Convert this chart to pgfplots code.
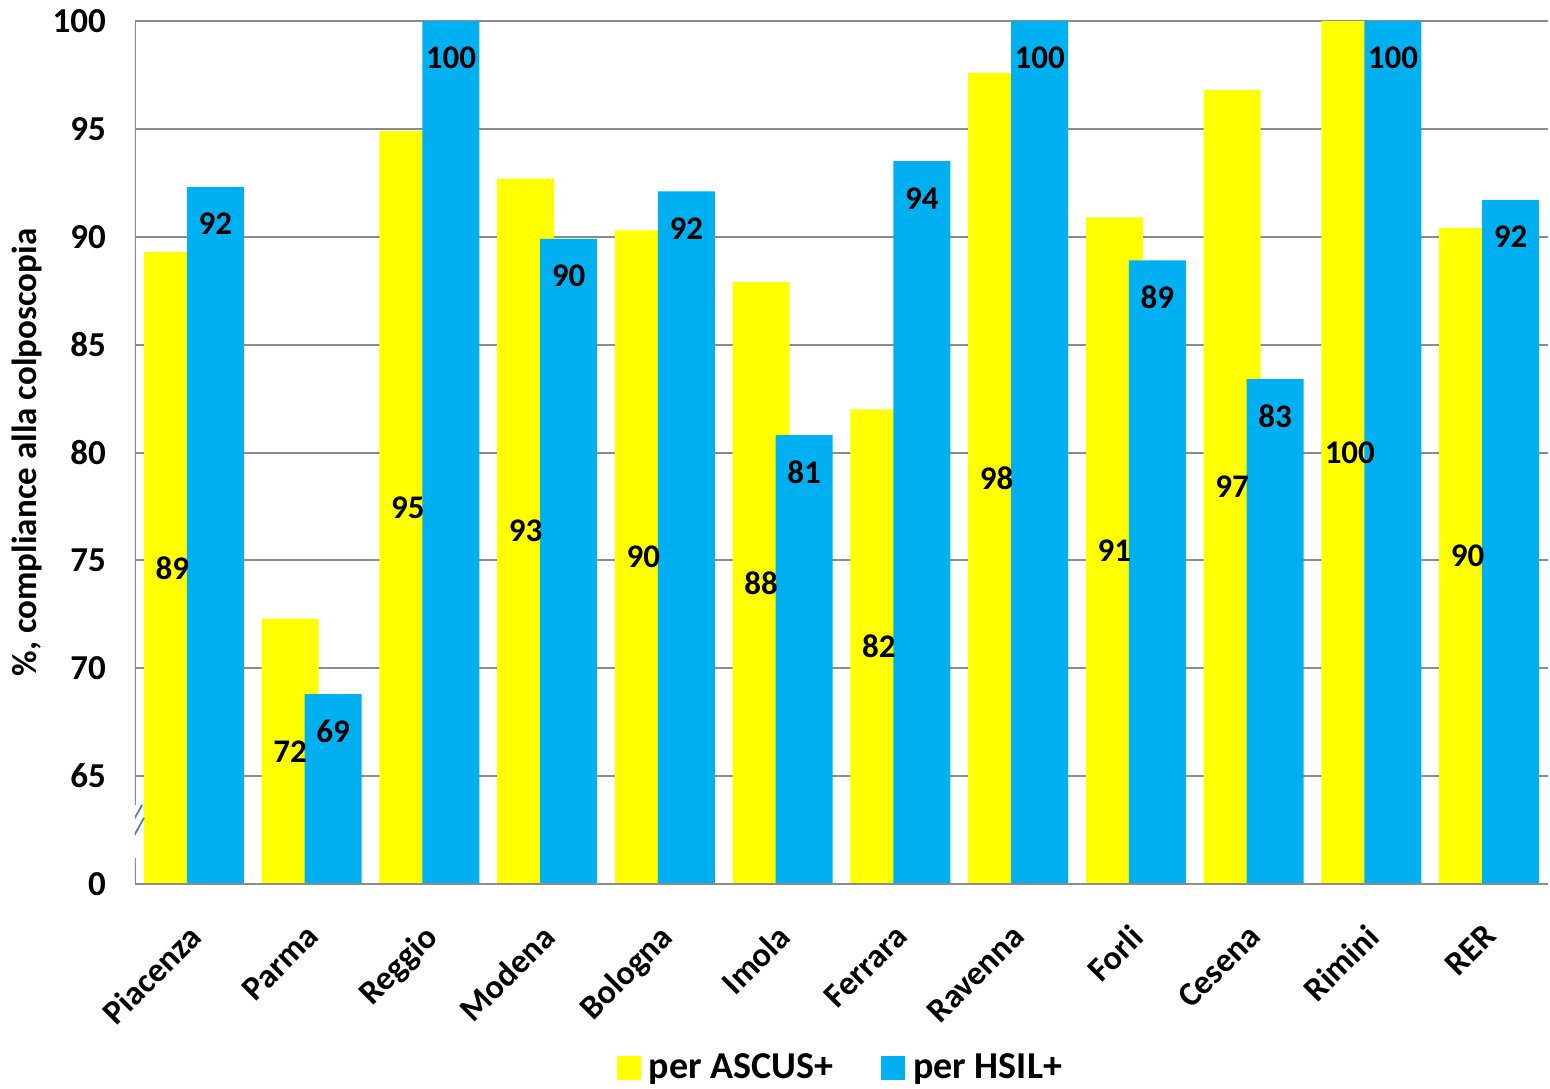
\documentclass[border=0pt]{standalone}
\usepackage{fontspec}
\setmainfont{Carlito}
\usepackage{pgfplots}
\pgfplotsset{compat=1.18}
\usepackage{pgfplotstable}
\definecolor{cyel}{HTML}{FFFF00}
\definecolor{cblue}{HTML}{00B0F0}
\definecolor{cgrid}{HTML}{8C8C8C}
\definecolor{cbreak}{HTML}{4F81BD}

\pgfplotstableread{
x a b la lb
0 89.3 92.3 89 92
1 72.3 68.8 72 69
2 94.9 100 95 100
3 92.7 89.9 93 90
4 90.3 92.1 90 92
5 87.9 80.8 88 81
6 82.0 93.5 82 94
7 97.6 100 98 100
8 90.9 88.9 91 89
9 96.8 83.4 97 83
10 100 100 100 100
11 90.4 91.7 90 92
}\data

\begin{document}
\begin{tikzpicture}
\begin{axis}[
  at={(0,0)}, anchor=south west,
  scale only axis, width=706.5pt, height=431.5pt,
  xmin=-0.5, xmax=11.5, ymin=0, ymax=40,
  axis lines=left, axis line style={draw=none},
  xtick={0,...,11},
  xticklabels={Piacenza,Parma,Reggio,Modena,Bologna,Imola,Ferrara,Ravenna,Forli,Cesena,Rimini,RER},
  ytick={0,5,...,40},
  yticklabels={0,65,70,75,80,85,90,95,100},
  major tick length=0pt,
  ymajorgrids, major grid style={cgrid, line width=1pt},
  yticklabel style={font=\fontsize{17.5}{20}\selectfont\bfseries, xshift=-11pt},
  xticklabel style={font=\fontsize{17}{20}\selectfont\bfseries, rotate=45, anchor=north east, yshift=-7.7pt, xshift=-12.7pt},
  ylabel={\%, compliance alla colposcopia},
  ylabel style={font=\fontsize{17.5}{20}\selectfont\bfseries, at={(axis description cs:-0.0764,0.5)}, anchor=center},
  legend style={at={(axis description cs:0.5,-0.213)}, anchor=center, draw=none, legend columns=2,
    font=\fontsize{19}{22}\selectfont\bfseries,
    /tikz/every odd column/.append style={column sep=2pt},
    /tikz/every even column/.append style={column sep=22pt}},
  legend image code/.code={\fill[#1] (0pt,-6pt) rectangle (12pt,6pt);},
  every node near coord/.append style={font=\fontsize{16.5}{19}\selectfont\bfseries, text=black},
]
\addplot[ybar, bar width=0.484, bar shift=-0.183, fill=cyel, draw=none]
  table[x=x, y expr=\thisrow{a}-60] {\data};
\addlegendentry{per ASCUS+}
\addplot[ybar, bar width=0.484, bar shift=0.183, fill=cblue, draw=none]
  table[x=x, y expr=\thisrow{b}-60] {\data};
\addlegendentry{per HSIL+}
\addplot[draw=none, mark=none, nodes near coords, point meta=explicit symbolic,
  every node near coord/.append style={anchor=center}, forget plot]
  table[x expr=\thisrow{x}-0.183, y expr=(\thisrow{a}-60)/2, meta=la] {\data};
\addplot[draw=none, mark=none, nodes near coords, point meta=explicit symbolic,
  every node near coord/.append style={anchor=center, yshift=-18.5pt}, forget plot]
  table[x expr=\thisrow{x}+0.183, y expr=\thisrow{b}-60, meta=lb] {\data};
\draw[cgrid, line width=1pt] (axis cs:-0.5,0) -- (axis cs:11.5,0);
\draw[cgrid, line width=1pt] (axis cs:-0.5,0) -- (axis cs:-0.5,1.2);
\draw[cgrid, line width=1pt] (axis cs:-0.5,3.65) -- (axis cs:-0.5,40);
\draw[cbreak, line width=0.9pt] (axis cs:-0.5,2.0) ++(-6.6pt,0pt) -- ++(10.2pt,18pt);
\draw[cbreak, line width=0.9pt] (axis cs:-0.5,1.4) ++(-5.5pt,0pt) -- ++(10pt,18pt);
\end{axis}
\pgfresetboundingbox
\path[use as bounding box] (-67.5pt,-102pt) rectangle (707.5pt,442pt);
\end{tikzpicture}
\end{document}
